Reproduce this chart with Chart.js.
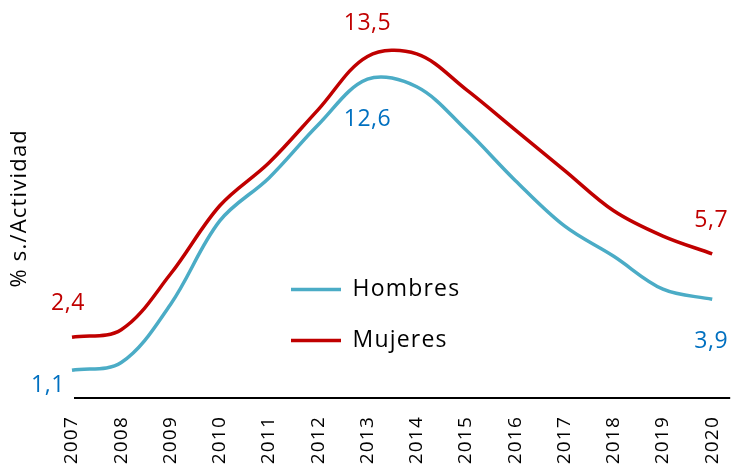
<!DOCTYPE html>
<html>
<head>
<meta charset="utf-8">
<script src="https://cdn.jsdelivr.net/npm/chart.js@4.4.1/dist/chart.umd.min.js"></script>
<style>
html, body { margin: 0; padding: 0; background: #fff; }
#wrap { width: 753px; height: 470px; }
</style>
</head>
<body>
<div id="wrap"><canvas id="chart"></canvas></div>
<script>
const years = ["2007", "2008", "2009", "2010", "2011", "2012", "2013", "2014", "2015", "2016", "2017", "2018", "2019", "2020"]
const hombres = [1.1, 1.4, 3.7, 7.0, 8.7, 10.8, 12.6, 12.3, 10.6, 8.6, 6.8, 5.6, 4.3, 3.9]
const mujeres = [2.4, 2.7, 4.9, 7.6, 9.3, 11.4, 13.5, 13.6, 12.2, 10.6, 9.0, 7.4, 6.4, 5.7]
const seriesNames = ["Hombres", "Mujeres"]
const lineColors = ["#4BACC6", "#C00000"]
const labelColors = ["#0070C0", "#C00000"]
const family = "'Open Sans', sans-serif"

// points that get a value written next to them (dataset, index, offset from the point)
const valueLabels = [
    {ds: 0, i: 0, dx: -24, dy: 15},
    {ds: 1, i: 0, dx: -4, dy: -34},
    {ds: 1, i: 6, dx: 0, dy: -33},
    {ds: 0, i: 6, dx: 0, dy: 40},
    {ds: 1, i: 13, dx: -1, dy: -33},
    {ds: 0, i: 13, dx: -1, dy: 42},
]

// all the text on this chart is set a little loose
const spacing = {
    id: "spacing",
    beforeDraw(chart) { chart.ctx.letterSpacing = "1.2px" },
    afterDraw(chart) { chart.ctx.letterSpacing = "0px" },
}

const valueLabelPlugin = {
    id: "valueLabels",
    afterDatasetsDraw(chart) {
        const ctx = chart.ctx
        ctx.save()
        ctx.letterSpacing = "0.5px"
        ctx.font = "23px " + family
        ctx.textAlign = "center"
        ctx.textBaseline = "middle"
        for (let l of valueLabels) {
            const pt = chart.getDatasetMeta(l.ds).data[l.i]
            const v = chart.data.datasets[l.ds].data[l.i]
            ctx.fillStyle = labelColors[l.ds]
            ctx.fillText(v.toFixed(1).replace(".", ","), pt.x + l.dx, pt.y + l.dy)
        }
        ctx.restore()
    },
}

// black zero line, runs a bit past the last year
const baselinePlugin = {
    id: "baseline",
    beforeDatasetsDraw(chart) {
        const {ctx, chartArea, scales} = chart
        const y = scales.y.getPixelForValue(0)
        ctx.save()
        ctx.strokeStyle = "#000"
        ctx.lineWidth = 2
        ctx.beginPath()
        ctx.moveTo(chartArea.left + 2, y)
        ctx.lineTo(chartArea.right + 18, y)
        ctx.stroke()
        ctx.restore()
    },
}

// put the legend inside the plot, under the peak
const legendSpot = {
    id: "legendSpot",
    afterLayout(chart) {
        const lg = chart.legend
        if (!lg) return
        lg.left = 263
        lg.top = 250
        lg.right = lg.left + 260
        lg.bottom = lg.top + 160
    },
}

const datasets = [hombres, mujeres].map((d, k) => ({
    label: seriesNames[k],
    data: d,
    borderColor: lineColors[k],
    backgroundColor: lineColors[k],
    borderWidth: 3.5,
    pointRadius: 0,
    tension: 0.35,
    fill: false,
}))

new Chart(document.querySelector("#chart"), {
    type: "line",
    data: {labels: years, datasets: datasets},
    plugins: [spacing, valueLabelPlugin, baselinePlugin, legendSpot],
    options: {
        responsive: true,
        maintainAspectRatio: false,
        animation: false,
        layout: {padding: {top: 18.5, right: 21, left: 0, bottom: 0}},
        scales: {
            x: {
                offset: false,
                grid: {display: false, drawTicks: false},
                border: {display: false},
                ticks: {color: "#000", font: {family: family, size: 19}, minRotation: 90, maxRotation: 90, padding: 18, autoSkip: false},
                afterFit(scale) { scale.height = 72 },
            },
            y: {
                min: 0,
                max: 15,
                grid: {display: false},
                border: {display: false},
                ticks: {display: false},
                title: {display: true, text: "% s./Actividad", color: "#000", font: {family: family, size: 22}, padding: {top: 7, bottom: 0}},
                afterFit(scale) { scale.width = 72 },
            },
        },
        plugins: {
            tooltip: {enabled: false},
            legend: {
                position: "chartArea",
                align: "start",
                labels: {
                    usePointStyle: true,
                    pointStyle: "line",
                    pointStyleWidth: 50,
                    padding: 28,
                    color: "#000",
                    font: {family: family, size: 23},
                },
            },
        },
    },
})
</script>
</body>
</html>
